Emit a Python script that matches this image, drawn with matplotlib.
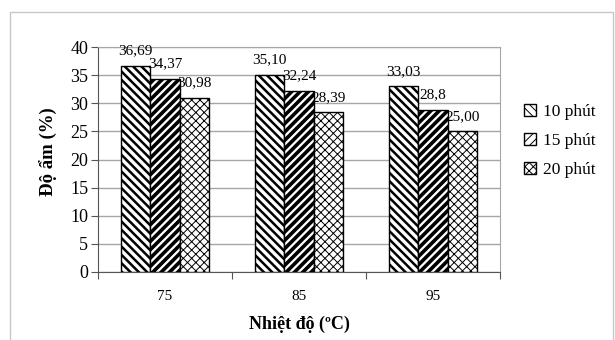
import matplotlib
matplotlib.use("Agg")
from matplotlib import pyplot as plt
from matplotlib.patches import Rectangle
import numpy as np

# Độ ẩm theo nhiệt độ sấy và thời gian
temps = ["75", "85", "95"]
series_names = ["10 phút", "15 phút", "20 phút"]
moist_10 = [36.69, 35.10, 33.03]
moist_15 = [34.37, 32.24, 28.8]
moist_20 = [30.98, 28.39, 25.00]
value_labels = [
    ["36,69", "35,10", "33,03"],
    ["34,37", "32,24", "28,8"],
    ["30,98", "28,39", "25,00"],
]

plt.rcParams["font.family"] = ["Liberation Serif", "DejaVu Serif"]

fig = plt.figure(figsize=(6.15, 3.4), dpi=100)
ax = fig.add_axes([98 / 615, 1 - 272 / 340, 402 / 615, 225 / 340])

# outer chart frame
fig.patches.append(Rectangle((10 / 615, -0.1), 603 / 615, 1 - 12 / 340 + 0.1,
                             transform=fig.transFigure, fill=False,
                             edgecolor="#c8c8c8", linewidth=1.0, clip_on=False))

x = np.arange(len(temps))
w = 0.22
hatches = ["\\\\\\\\", "////", "xxxx"]
hatch_lw = [1.8, 2.6, 0.7]
series = [moist_10, moist_15, moist_20]

for i, vals in enumerate(series):
    plt.rcParams["hatch.linewidth"] = hatch_lw[i]
    bars = ax.bar(x + (i - 1) * w, vals, w, color="white", edgecolor="black",
                  hatch=hatches[i], linewidth=1.0, label=series_names[i], zorder=3)
    for b in bars:
        if hasattr(b, "set_hatch_linewidth"):
            b.set_hatch_linewidth(hatch_lw[i])
    for j, b in enumerate(bars):
        ax.annotate(value_labels[i][j], (b.get_x() + b.get_width() / 2, b.get_height()),
                    xytext=(0, 6), textcoords="offset points", ha="center", va="bottom",
                    fontsize=11)

ax.set_xlim(-0.5, 2.5)
ax.set_ylim(0, 40)
ax.set_yticks(range(0, 41, 5))
ax.yaxis.grid(True, color="#a6a6a6", linewidth=1.0, zorder=0)
ax.set_axisbelow(True)

# category labels in the middle, tick marks on the boundaries
ax.set_xticks(np.arange(-0.5, 3, 1.0))
ax.set_xticklabels([])
ax.set_xticks(x, minor=True)
ax.set_xticklabels(temps, minor=True)
ax.tick_params(axis="x", which="minor", length=0, pad=13, labelsize=11)
ax.tick_params(axis="x", which="major", length=5, color="#555555")
ax.tick_params(axis="y", length=5, color="#555555", labelsize=13, pad=2)

for s in ["top", "right"]:
    ax.spines[s].set_color("#a6a6a6")
ax.spines["left"].set_color("#555555")
ax.spines["bottom"].set_color("#555555")

ax.set_ylabel("Độ ẩm (%)", fontsize=13.5, fontweight="bold")
ax.yaxis.set_label_coords(-0.10, 0.533)
ax.set_xlabel("Nhiệt độ (ºC)", fontsize=13, fontweight="bold", labelpad=9)

leg = ax.legend(loc="center left", bbox_to_anchor=(508 / 615, 1 - 141 / 340),
                bbox_transform=fig.transFigure, frameon=False, fontsize=12.5,
                handlelength=0.7, handleheight=0.7, handletextpad=0.4,
                labelspacing=0.75)

fig.savefig("out.png", dpi=100)
